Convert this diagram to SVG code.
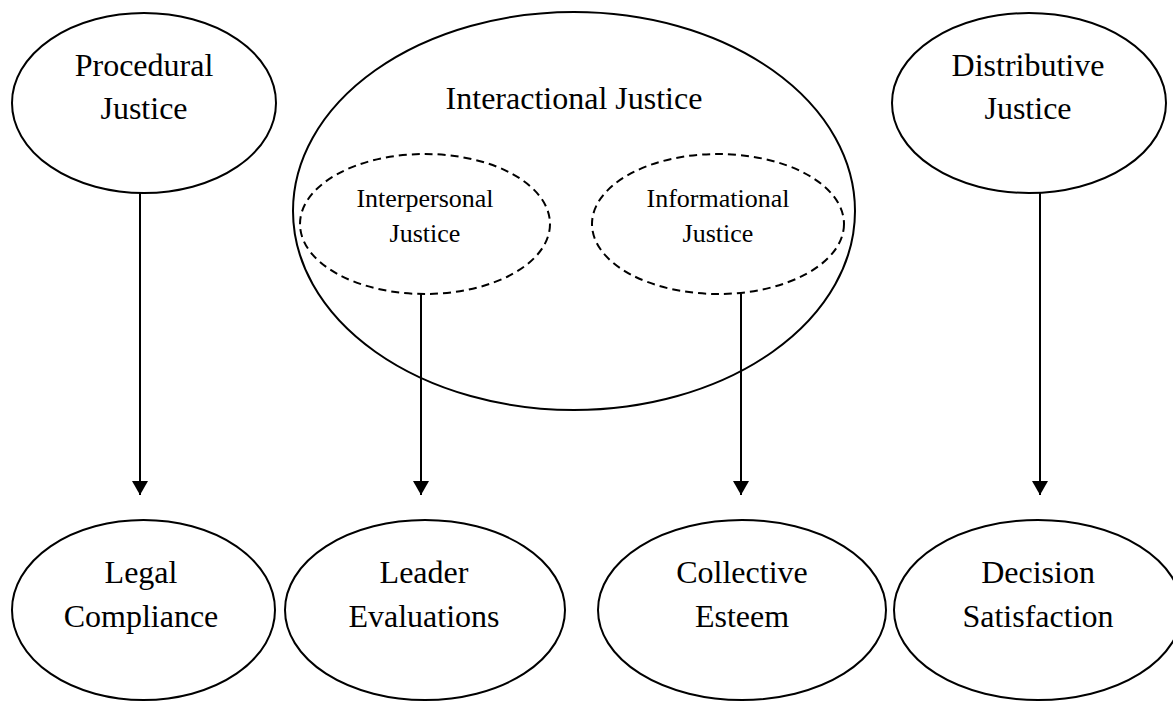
<svg xmlns="http://www.w3.org/2000/svg" width="1173" height="702" viewBox="0 0 1173 702">
<style>
.n{fill:#fff;stroke:#000;stroke-width:2}
.d{fill:none;stroke:#000;stroke-width:2;stroke-dasharray:8 5}
.t{font-family:"Liberation Serif","Times New Roman",serif;font-size:32px;fill:#000;text-anchor:middle}
.s{font-size:26px}
.c{stroke:#000;stroke-width:2;fill:none}
</style>
<defs>
<marker id="ah" markerUnits="userSpaceOnUse" markerWidth="16" markerHeight="16" refX="14" refY="8" orient="auto">
<path d="M0,0 L14,8 L0,16 z" fill="#000"/>
</marker>
</defs>
<rect width="1173" height="702" fill="#fff"/>
<g id="procedural">
<ellipse class="n" cx="144" cy="103" rx="132" ry="90"/>
<text class="t" x="144" y="76">Procedural</text>
<text class="t" x="144" y="119">Justice</text>
</g>
<g id="interactional">
<ellipse class="n" cx="574" cy="211" rx="281" ry="199"/>
<text class="t" x="574" y="109">Interactional Justice</text>
</g>
<g id="interpersonal">
<ellipse class="d" cx="425" cy="224" rx="125" ry="70"/>
<text class="t s" x="425" y="207">Interpersonal</text>
<text class="t s" x="425" y="242">Justice</text>
</g>
<g id="informational">
<ellipse class="d" cx="718" cy="224" rx="126" ry="70"/>
<text class="t s" x="718" y="207">Informational</text>
<text class="t s" x="718" y="242">Justice</text>
</g>
<g id="distributive">
<ellipse class="n" cx="1029" cy="103" rx="137" ry="90"/>
<text class="t" x="1028" y="76">Distributive</text>
<text class="t" x="1028" y="119">Justice</text>
</g>
<g id="legal">
<ellipse class="n" cx="143.5" cy="610" rx="131.5" ry="90"/>
<text class="t" x="141" y="583">Legal</text>
<text class="t" x="141" y="627">Compliance</text>
</g>
<g id="leader">
<ellipse class="n" cx="425" cy="610" rx="140" ry="90"/>
<text class="t" x="424" y="583">Leader</text>
<text class="t" x="424" y="627">Evaluations</text>
</g>
<g id="collective">
<ellipse class="n" cx="742" cy="610" rx="144" ry="90"/>
<text class="t" x="742" y="583">Collective</text>
<text class="t" x="742" y="627">Esteem</text>
</g>
<g id="decision">
<ellipse class="n" cx="1038" cy="610" rx="144" ry="90"/>
<text class="t" x="1038" y="583">Decision</text>
<text class="t" x="1038" y="627">Satisfaction</text>
</g>
<g id="connectors">
<line class="c" x1="140" y1="193" x2="140" y2="495" marker-end="url(#ah)"/>
<line class="c" x1="421" y1="294" x2="421" y2="495" marker-end="url(#ah)"/>
<line class="c" x1="741" y1="294" x2="741" y2="495" marker-end="url(#ah)"/>
<line class="c" x1="1040" y1="193" x2="1040" y2="495" marker-end="url(#ah)"/>
</g>
</svg>
